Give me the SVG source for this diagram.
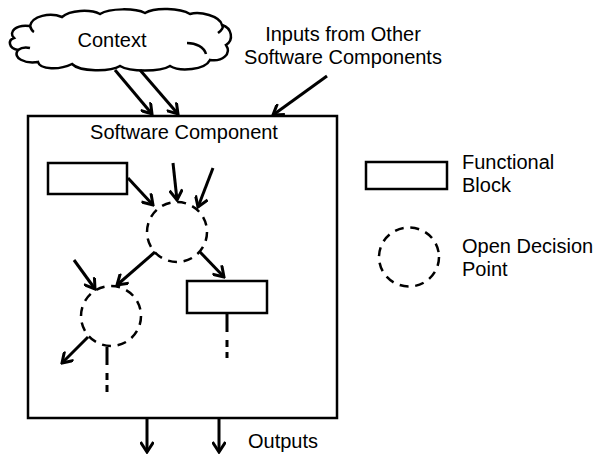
<svg xmlns="http://www.w3.org/2000/svg" width="598" height="455" viewBox="0 0 598 455">
<style>
text{font-family:"Liberation Sans",Arial,sans-serif;font-size:20px;fill:#000}
.box{fill:#fff;stroke:#000;stroke-width:2.5}
.dp{fill:none;stroke:#000;stroke-width:2.5;stroke-dasharray:9 6.7}
.ln{fill:none;stroke:#000;stroke-width:3}
.arr{fill:none;stroke:#000;stroke-width:3;marker-end:url(#ah)}
</style>
<defs>
<marker id="ah" viewBox="0 0 14 14" refX="12" refY="7" markerWidth="14" markerHeight="14" markerUnits="userSpaceOnUse" orient="auto">
<path d="M2,0.5 L12,7 L2,13.5" fill="none" stroke="#000" stroke-width="3"/>
</marker>
</defs>
<g id="context">
<path class="box" d="M14,38 C8,32 16,24 30,26 C32,16 50,12 62,17 C70,10 90,9 100,14 C110,8 135,8 145,13 C155,7 180,8 190,14 C200,11 220,16 222,25 C232,28 234,40 226,45 C232,54 222,62 210,60 C205,70 180,72 170,66 C160,72 130,72 120,66 C110,72 80,72 72,64 C60,70 40,70 38,62 C25,64 12,58 18,50 C8,48 8,40 14,38 Z"/>
<path class="box" fill="none" d="M187,43 C196,43 204,47 206,54 M218,33 C222,30 224,27 222,25 M18,50 C22,47 26,47 30,48 M30,26 C31,29 32,31 34,32" style="fill:none"/>
<text x="112" y="47" text-anchor="middle">Context</text>
</g>
<g id="inputs-label">
<text x="343" y="41" text-anchor="middle">Inputs from Other</text>
<text x="343" y="64" text-anchor="middle">Software Components</text>
</g>
<g id="software-component">
<rect class="box" x="28" y="116" width="309" height="302"/>
<text x="184" y="139" text-anchor="middle">Software Component</text>
</g>
<g id="block1"><rect class="box" x="48" y="163" width="79" height="31"/></g>
<g id="decision1"><circle class="dp" cx="177" cy="232" r="30"/></g>
<g id="decision2"><circle class="dp" cx="111" cy="316" r="30"/></g>
<g id="block2"><rect class="box" x="187" y="281" width="80" height="32"/></g>
<g id="legend-block">
<rect class="box" x="366" y="162" width="81" height="27"/>
<text x="462" y="169">Functional</text>
<text x="462" y="192">Block</text>
</g>
<g id="legend-decision">
<ellipse class="dp" cx="409" cy="257" rx="30" ry="29.5"/>
<text x="462" y="253">Open Decision</text>
<text x="462" y="276">Point</text>
</g>
<g id="outputs-label"><text x="248" y="448">Outputs</text></g>
<g id="connectors">
<line class="arr" x1="115" y1="70" x2="152" y2="114"/>
<line class="arr" x1="140" y1="70" x2="178" y2="114"/>
<line class="arr" x1="327" y1="76" x2="273" y2="115"/>
<line class="arr" x1="128" y1="178" x2="153" y2="205"/>
<line class="arr" x1="173" y1="163" x2="177" y2="200"/>
<line class="arr" x1="213" y1="168" x2="198" y2="207"/>
<line class="arr" x1="155" y1="252" x2="117" y2="285"/>
<line class="arr" x1="200" y1="252" x2="224" y2="277"/>
<line class="arr" x1="74" y1="260" x2="95" y2="289"/>
<line class="arr" x1="88" y1="337" x2="62" y2="363"/>
<path class="ln" d="M227,313 V332 M227,340 V347 M227,352 V358"/>
<path class="ln" d="M107,347 V365 M107,373 V380 M107,385 V392"/>
<line class="arr" x1="147" y1="418" x2="147" y2="452"/>
<line class="arr" x1="219" y1="418" x2="219" y2="452"/>
</g>
</svg>
